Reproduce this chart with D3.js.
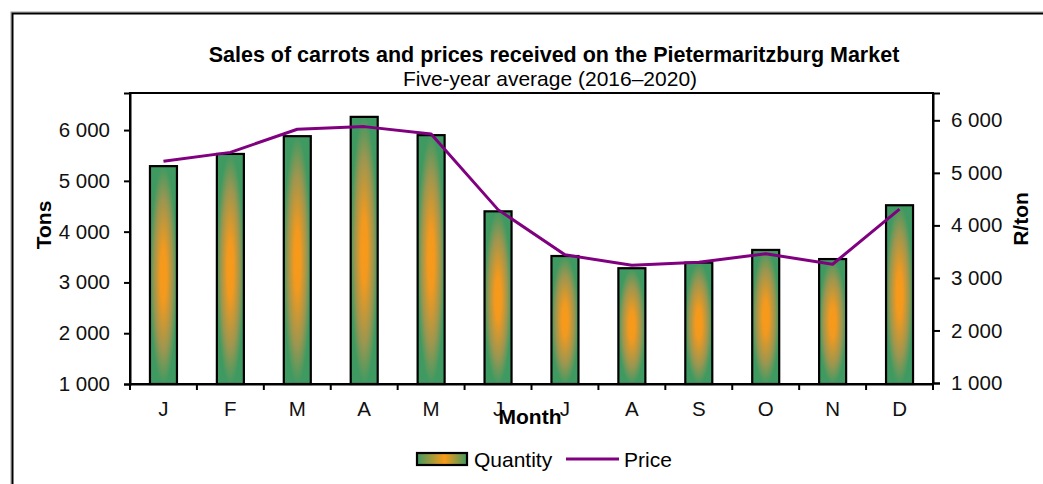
<!DOCTYPE html>
<html><head><meta charset="utf-8">
<script src="https://cdn.jsdelivr.net/npm/d3@7"></script>
<style>body{margin:0;background:#fff;}text{font-family:"Liberation Sans",Arial,sans-serif;}</style>
</head><body>
<svg id="c" width="1043" height="484"></svg>
<script>
const months = ["J","F","M","A","M","J","J","A","S","O","N","D"];
const quantity = [5290, 5530, 5880, 6260, 5900, 4400, 3520, 3280, 3390, 3640, 3460, 4520];
const price = [5220, 5390, 5830, 5880, 5740, 4300, 3440, 3240, 3300, 3460, 3260, 4310];
const leftTicks = [1000, 2000, 3000, 4000, 5000, 6000];
const rightTicks = [1000, 2000, 3000, 4000, 5000, 6000];
const titleText = "Sales of carrots and prices received on the Pietermaritzburg Market";
const subtitleText = "Five-year average (2016\u20132020)";

const svg = d3.select("#c");
const L = 130, R = 933, T = 93, B = 384;
const fmt = d => d3.format(",")(d).replace(/,/g, " ");

// outer frame
svg.append("rect").attr("x",11).attr("y",12).attr("width",1100).attr("height",600)
  .attr("fill","none").attr("stroke","#999").attr("stroke-width",1);
svg.append("rect").attr("x",12.5).attr("y",13.5).attr("width",1100).attr("height",600)
  .attr("fill","none").attr("stroke","#000").attr("stroke-width",2);

const defs = svg.append("defs");
const grad = defs.append("radialGradient").attr("id","bg")
  .attr("cx","0.5").attr("cy","0.5").attr("r","0.5");
grad.append("stop").attr("offset","0").attr("stop-color","#f99a18");
grad.append("stop").attr("offset","0.25").attr("stop-color","#f2991f");
grad.append("stop").attr("offset","0.7").attr("stop-color","#9a9650");
grad.append("stop").attr("offset","1").attr("stop-color","#3f9a62");

const xb = d3.scaleBand().domain(d3.range(12)).range([L, R]);
const yL = d3.scaleLinear().domain([1000, 6730]).range([B, T]);
const yR = d3.scaleLinear().domain([1000, 6520]).range([383, T]);

// bars
svg.append("g").selectAll("rect").data(quantity).join("rect")
  .attr("x", (d,i) => xb(i) + xb.bandwidth()/2 - 13.5)
  .attr("width", 27)
  .attr("y", d => yL(d))
  .attr("height", d => B - yL(d))
  .attr("fill","url(#bg)").attr("stroke","#000").attr("stroke-width",2.2);

// plot box
svg.append("rect").attr("x",L).attr("y",T).attr("width",R-L).attr("height",B-T)
  .attr("fill","none").attr("stroke","#000").attr("stroke-width",2);

// price line
const line = d3.line().x((d,i) => xb(i) + xb.bandwidth()/2).y(d => yR(d));
svg.append("path").datum(price).attr("d", line)
  .attr("fill","none").attr("stroke","#800080").attr("stroke-width",3).attr("stroke-linejoin","round");

// axes
const axL = svg.append("g").attr("transform",`translate(${L},0)`)
  .call(d3.axisLeft(yL).tickValues(leftTicks).tickFormat(fmt).tickSize(6).tickPadding(14));
const axR = svg.append("g").attr("transform",`translate(${R},0)`)
  .call(d3.axisRight(yR).tickValues(rightTicks).tickFormat(fmt).tickSize(7).tickPadding(11));
const axB = svg.append("g").attr("transform",`translate(0,${B})`)
  .call(d3.axisBottom(xb).tickFormat(i => months[i]).tickSize(0).tickPadding(0));
axB.selectAll("text").attr("y", 32).attr("dy", null);
// boundary ticks for x
svg.append("g").selectAll("line").data(d3.range(13)).join("line")
  .attr("x1", i => L + i*xb.bandwidth()).attr("x2", i => L + i*xb.bandwidth())
  .attr("y1", B).attr("y2", B+6).attr("stroke","#000").attr("stroke-width",2);

[axL, axR, axB].forEach(a => {
  a.select(".domain").attr("stroke","#000").attr("stroke-width",2);
  a.selectAll(".tick line").attr("stroke","#000").attr("stroke-width",2);
  a.selectAll("text").attr("font-size","20.5px").attr("fill","#111")
    .attr("font-family","'Liberation Sans',Arial,sans-serif");
});

// titles
svg.append("text").attr("x",554).attr("y",62).attr("text-anchor","middle")
  .attr("font-size","21.5px").attr("font-weight","bold").attr("fill","#000").text(titleText);
svg.append("text").attr("x",550).attr("y",86).attr("text-anchor","middle")
  .attr("font-size","21px").attr("fill","#000").text(subtitleText);

svg.append("text").attr("transform","translate(51,225) rotate(-90)").attr("text-anchor","middle")
  .attr("font-size","21px").attr("font-weight","bold").text("Tons");
svg.append("text").attr("transform","translate(1028,219) rotate(-90)").attr("text-anchor","middle")
  .attr("font-size","21px").attr("font-weight","bold").text("R/ton");
svg.append("text").attr("x",530).attr("y",424).attr("text-anchor","middle")
  .attr("font-size","21px").attr("font-weight","bold").text("Month");

// legend
const lg = defs.append("linearGradient").attr("id","lg").attr("x1","0").attr("x2","1");
lg.append("stop").attr("offset","0").attr("stop-color","#3f9a62");
lg.append("stop").attr("offset","0.55").attr("stop-color","#f99a18");
lg.append("stop").attr("offset","1").attr("stop-color","#3f9a62");
svg.append("rect").attr("x",417).attr("y",453).attr("width",50).attr("height",12)
  .attr("fill","url(#lg)").attr("stroke","#000").attr("stroke-width",2.2);
svg.append("text").attr("x",474).attr("y",467).attr("font-size","21px").text("Quantity");
svg.append("line").attr("x1",566).attr("x2",619).attr("y1",459).attr("y2",459)
  .attr("stroke","#800080").attr("stroke-width",3);
svg.append("text").attr("x",624).attr("y",467).attr("font-size","21px").text("Price");
</script>
</body></html>
